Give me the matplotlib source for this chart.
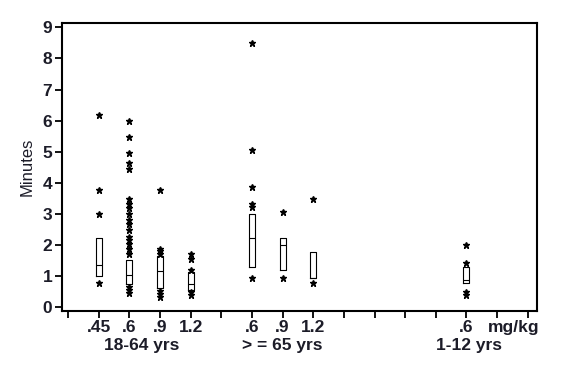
import matplotlib.pyplot as plt
from matplotlib.transforms import blended_transform_factory

plt.rcParams['font.family'] = ['Liberation Sans', 'DejaVu Sans']

# x positions of each box (one slot per tick)
positions = [1, 2, 3, 4, 6, 7, 8, 13]

# box quartiles, minutes
q1 = [1.01, 0.76, 0.63, 0.57, 1.28, 1.21, 0.95, 0.78]
med = [1.35, 1.04, 1.16, 0.76, 2.24, 1.99, 0.95, 0.89]
q3 = [2.24, 1.53, 1.65, 1.12, 3.01, 2.24, 1.78, 1.30]

# individual points drawn as stars
stars = [
    [6.17, 3.76, 3.01, 0.78],
    [5.99, 5.48, 4.97, 4.65, 4.44, 3.47, 3.33, 3.20, 3.01, 2.82, 2.67, 2.50,
     2.26, 2.15, 2.03, 1.89, 1.73, 0.65, 0.57, 0.46],
    [3.76, 1.89, 1.81, 1.73, 0.51, 0.42, 0.33],
    [1.73, 1.54, 1.21, 0.49, 0.41],
    [8.51, 5.05, 3.87, 3.31, 3.23, 0.95],
    [3.05, 0.95],
    [3.47, 0.78],
    [2.01, 1.42, 0.49, 0.40],
]

tick_pos = [1, 2, 3, 4, 6, 7, 8, 13, 14.55]
tick_labels = ['.45', '.6', '.9', '1.2', '.6', '.9', '1.2', '.6', 'mg/kg']

groups = ['18-64 yrs', '> = 65 yrs', '1-12 yrs']
group_pos = [2.4, 7, 13.1]

txt = '#1c1c28'

stats = []
for i in range(len(positions)):
    stats.append({'q1': q1[i], 'med': med[i], 'q3': q3[i],
                  'whislo': q1[i], 'whishi': q3[i], 'fliers': stars[i]})

fig = plt.figure(figsize=(5.77, 3.84), dpi=100)
ax = fig.add_axes([0.1075, 0.19, 0.823, 0.75])

ax.bxp(stats, positions=positions, widths=0.2, showcaps=False,
       boxprops=dict(color='black', linewidth=0.8),
       medianprops=dict(color='black', linewidth=0.8),
       whiskerprops=dict(linewidth=0),
       flierprops=dict(marker='*', markersize=5, markerfacecolor='black',
                       markeredgecolor='black', linestyle='none'))

ax.set_xlim(-0.2, 15.3)
ax.set_ylim(-0.12, 9.14)
ax.set_xticks(range(16))
ax.set_xticklabels([''] * 16)
ax.set_yticks(range(10))
ax.set_yticklabels([str(v) for v in range(10)], fontsize=12.5, fontweight='bold',
                   color=txt)
ax.set_ylabel('Minutes', fontsize=12, color=txt, labelpad=6)

for s in ax.spines.values():
    s.set_linewidth(1.5)
ax.tick_params(axis='both', direction='out', length=5, width=1.3, pad=2)

trans = blended_transform_factory(ax.transData, ax.transAxes)
for x, lab in zip(tick_pos, tick_labels):
    ax.text(x, -0.074, lab, transform=trans, ha='center', va='baseline',
            fontsize=12.5, fontweight='bold', color=txt)
for x, lab in zip(group_pos, groups):
    ax.text(x, -0.136, lab, transform=trans, ha='center', va='baseline',
            fontsize=12.5, fontweight='bold', color=txt)

fig.savefig('out.png', dpi=100)
